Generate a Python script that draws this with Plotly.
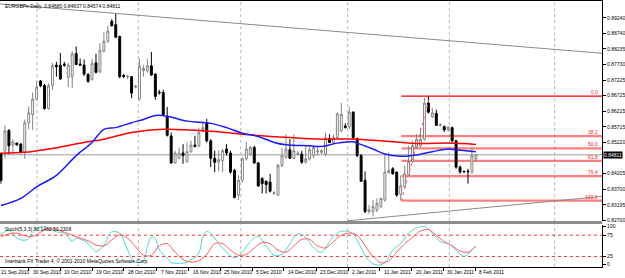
import plotly.graph_objects as go

W, H = 625, 278

# ---------------- data ----------------
header_text = "EURGBPe,Daily  0.84680 0.84837 0.84574 0.84811"
last_price = 0.84811

bars = list(range(1, 122))
opens = [
0.84838, 0.84944, 0.85603, 0.85125, 0.85189, 0.85157, 0.84891, 0.85848, 0.86114, 0.86613,
0.87198, 0.87049, 0.86305, 0.87049, 0.87709, 0.87709, 0.87740, 0.87315, 0.87336, 0.88081,
0.87740, 0.87709, 0.87411, 0.87251, 0.87783, 0.87496, 0.88166, 0.88485, 0.89123, 0.89016,
0.88634, 0.87379, 0.87326, 0.87336, 0.86996, 0.86613, 0.87528, 0.87528, 0.87687, 0.87421,
0.86837, 0.86826, 0.86039, 0.85423, 0.84551, 0.84699, 0.84869, 0.84593, 0.84912, 0.85125,
0.85103, 0.85614, 0.85848, 0.85263, 0.84699, 0.84572, 0.84625, 0.84997, 0.84869, 0.84306,
0.83508, 0.83987, 0.84678, 0.84838, 0.85050, 0.84551, 0.84040, 0.83955, 0.83934, 0.83562,
0.83508, 0.84466, 0.84731, 0.84976, 0.84699, 0.84838, 0.84838, 0.84572, 0.84678, 0.84784,
0.84912, 0.84891, 0.84838, 0.85337, 0.85210, 0.85369, 0.85582, 0.85741, 0.85720, 0.86188,
0.85337, 0.84784, 0.83987, 0.82977, 0.82977, 0.83030, 0.83136, 0.83349, 0.84232, 0.84359,
0.84253, 0.83530, 0.83774, 0.84168, 0.84593, 0.85050, 0.85103, 0.85316, 0.86486, 0.86039,
0.86146, 0.85763, 0.85720, 0.85614, 0.85688, 0.85263, 0.84413, 0.84274, 0.84285, 0.84253,
0.84680]
highs = [
0.84891, 0.85763, 0.85635, 0.85316, 0.85210, 0.85189, 0.85954, 0.86380, 0.86826, 0.87177,
0.87230, 0.87103, 0.87124, 0.87783, 0.87815, 0.88102, 0.87815, 0.87783, 0.88166, 0.88315,
0.87921, 0.87889, 0.87443, 0.87921, 0.88081, 0.88421, 0.88772, 0.88985, 0.89197, 0.89378,
0.88666, 0.87421, 0.87390, 0.87358, 0.87071, 0.87921, 0.87709, 0.87921, 0.88134, 0.87443,
0.86911, 0.86911, 0.86358, 0.85529, 0.84944, 0.85050, 0.85157, 0.85210, 0.85263, 0.85423,
0.85688, 0.85848, 0.85975, 0.85316, 0.84944, 0.84944, 0.84997, 0.85157, 0.84944, 0.84359,
0.84147, 0.84731, 0.85231, 0.85103, 0.85103, 0.84572, 0.84094, 0.83987, 0.84200, 0.83636,
0.84519, 0.85050, 0.85476, 0.85316, 0.85476, 0.84944, 0.84944, 0.85103, 0.85103, 0.85103,
0.85103, 0.84997, 0.85529, 0.85476, 0.85476, 0.86188, 0.86486, 0.85827, 0.86358, 0.86220,
0.85369, 0.84838, 0.84274, 0.83190, 0.83349, 0.83402, 0.83423, 0.84869, 0.84891, 0.84413,
0.84274, 0.84147, 0.84466, 0.85103, 0.85263, 0.85476, 0.85688, 0.86645, 0.86705, 0.86326,
0.86273, 0.85827, 0.85763, 0.85741, 0.85720, 0.85295, 0.84466, 0.84306, 0.84359, 0.85050,
0.84837]
lows = [
0.83881, 0.84699, 0.84838, 0.84891, 0.85103, 0.84859, 0.84678, 0.85635, 0.85614, 0.86592,
0.86996, 0.86273, 0.86273, 0.86911, 0.87336, 0.87230, 0.87655, 0.86996, 0.86964, 0.87709,
0.87687, 0.87358, 0.87145, 0.87209, 0.87443, 0.87443, 0.88102, 0.88421, 0.88953, 0.88591,
0.87283, 0.87283, 0.87251, 0.86645, 0.86964, 0.86571, 0.87336, 0.87464, 0.87358, 0.86592,
0.86752, 0.86061, 0.85401, 0.84519, 0.84519, 0.84678, 0.84519, 0.84551, 0.84869, 0.85050,
0.85050, 0.85529, 0.85210, 0.84413, 0.84253, 0.84274, 0.84253, 0.84784, 0.84200, 0.83402,
0.83349, 0.83913, 0.84625, 0.84784, 0.84519, 0.83774, 0.83562, 0.83562, 0.83593, 0.83508,
0.83477, 0.84413, 0.84678, 0.84678, 0.84678, 0.84784, 0.84519, 0.84519, 0.84625, 0.84699,
0.84784, 0.84838, 0.84784, 0.85189, 0.85157, 0.85316, 0.85550, 0.85656, 0.85635, 0.85316,
0.84731, 0.83934, 0.82924, 0.82892, 0.82818, 0.82956, 0.83083, 0.83296, 0.84200, 0.84168,
0.83455, 0.83328, 0.83742, 0.84147, 0.84551, 0.84997, 0.85050, 0.85263, 0.86146, 0.86007,
0.85741, 0.85720, 0.85550, 0.85550, 0.85210, 0.84359, 0.84200, 0.84232, 0.83881, 0.84200,
0.84574]
closes = [
0.83987, 0.85582, 0.85103, 0.85231, 0.85135, 0.84891, 0.85848, 0.86167, 0.86613, 0.86996,
0.87039, 0.86305, 0.87039, 0.87687, 0.87655, 0.87262, 0.87709, 0.87709, 0.88081, 0.87730,
0.87709, 0.87421, 0.87177, 0.87762, 0.87475, 0.88187, 0.88485, 0.88804, 0.88985, 0.88612,
0.87336, 0.87347, 0.87347, 0.86805, 0.87028, 0.87677, 0.87602, 0.87687, 0.87390, 0.86698,
0.86815, 0.86114, 0.85444, 0.84551, 0.84869, 0.84869, 0.84784, 0.84912, 0.85125, 0.85082,
0.85529, 0.85688, 0.85263, 0.84699, 0.84572, 0.84657, 0.84944, 0.84869, 0.84253, 0.83434,
0.83987, 0.84678, 0.84997, 0.85050, 0.84551, 0.83806, 0.83881, 0.83849, 0.83636, 0.83583,
0.84466, 0.84784, 0.84997, 0.84699, 0.84944, 0.84859, 0.84572, 0.84678, 0.84976, 0.85050,
0.84933, 0.84944, 0.85369, 0.85210, 0.85369, 0.86135, 0.86114, 0.85699, 0.86188, 0.85369,
0.84784, 0.83955, 0.82977, 0.83030, 0.83136, 0.83243, 0.83402, 0.84253, 0.84306, 0.84200,
0.83508, 0.83806, 0.84200, 0.84593, 0.85103, 0.85316, 0.85316, 0.86486, 0.86188, 0.86167,
0.85763, 0.85784, 0.85614, 0.85710, 0.85263, 0.84413, 0.84253, 0.84264, 0.84264, 0.84784,
0.84811]

# moving averages (read at selected bars)
ma_red_bars = [1, 7, 13, 22, 27, 34, 42, 54, 62, 74, 82, 91, 106, 114, 121]
ma_red_vals = [0.84860, 0.84892, 0.84998, 0.85211, 0.85317, 0.85530, 0.85636, 0.85572,
               0.85476, 0.85371, 0.85317, 0.85317, 0.85180, 0.85189, 0.85148]
ma_blue_bars = [1, 6, 10, 15, 20, 24, 27, 30, 34, 37, 40, 43, 48, 54, 58, 62, 66, 70, 73,
                79, 82, 86, 90, 91, 95, 98, 102, 106, 110, 114, 116, 121]
ma_blue_vals = [0.83170, 0.83403, 0.83776, 0.84146, 0.84784, 0.85211, 0.85636, 0.85690,
                0.85849, 0.85955, 0.86082, 0.86060, 0.85900, 0.85827, 0.85690, 0.85508,
                0.85403, 0.85211, 0.85135, 0.85103, 0.85084, 0.85189, 0.85230, 0.85189,
                0.84998, 0.84838, 0.84765, 0.84806, 0.84912, 0.84998, 0.84975, 0.84912]

# trend lines (bar, price) pairs
trend_upper = [(0.75, 0.89687), (152.9, 0.88092)]
trend_lower = [(88.6, 0.82679), (152.9, 0.83467)]

# fibonacci retracement
fib_start_bar, fib_end_bar = 102.2, 109.4
fib_low, fib_high = 0.83328, 0.86705
fib_ratios = [0.0, 0.382, 0.5, 0.618, 0.764, 1.0]
fib_labels = ["0.0", "38.2", "50.0", "61.8", "76.4", "100.0"]

# price axis labels
price_ticks = [0.89240, 0.88740, 0.88235, 0.87730, 0.87225, 0.86725, 0.86215,
               0.85715, 0.85220, 0.84205, 0.83700, 0.83195, 0.82700]

# stochastic (5,3,3)
stoch_label = "Stoch(5,3,3) 50.1462 50.2308"
stoch_k_bars = [1, 3, 4, 5, 7, 8, 9, 10, 12, 13, 14, 15, 17, 18, 19, 20, 21, 23, 24, 25, 27, 28, 29,
                31, 32, 33, 34, 35, 37, 38, 39, 40, 41, 43, 44, 46, 48, 49, 51, 52, 53, 54, 56,
                58, 60, 62, 64, 66, 68, 70, 72, 74, 76, 78, 80, 82, 84, 86, 88, 90, 92, 94, 96,
                98, 100, 102, 104, 106, 108, 110, 112, 114, 116, 118, 120, 121]
stoch_k_vals = [77, 87, 80, 68, 63, 68, 83, 90, 96, 90, 87, 83, 79, 71, 60, 69, 66, 56, 44, 37, 50, 71, 83,
                80, 63, 40, 21, 11, 15, 48, 71, 67, 40, 21, 11, 9, 11, 17, 33, 71, 84, 79, 56,
                35, 22, 35, 60, 72, 50, 28, 30, 55, 78, 70, 45, 35, 60, 80, 85, 78, 45, 15, 5,
                10, 40, 55, 80, 92, 95, 80, 60, 55, 40, 25, 40, 50]
stoch_d_bars = [1, 3, 5, 7, 9, 11, 13, 15, 17, 19, 21, 23, 25, 27, 29, 31, 33, 35, 37, 39, 41, 43, 45,
                47, 49, 51, 53, 55, 57, 59, 61, 63, 65, 67, 69, 71, 73, 75, 77, 79, 81, 83, 85,
                87, 89, 91, 93, 95, 97, 99, 101, 103, 105, 107, 109, 111, 113, 115, 117, 119, 121]
stoch_d_vals = [72, 78, 80, 74, 72, 82, 90, 88, 82, 75, 68, 62, 52, 50, 64, 76, 68, 48, 28, 28, 50, 55, 35,
                18, 12, 15, 30, 55, 55, 40, 28, 30, 45, 58, 55, 40, 35, 50, 65, 65, 50, 45, 60,
                75, 80, 75, 50, 25, 10, 15, 35, 55, 70, 85, 88, 75, 60, 50, 38, 35, 50]

date_labels = ["21 Sep 2010", "30 Sep 2010", "10 Oct 2010", "19 Oct 2010", "28 Oct 2010",
               "7 Nov 2010", "16 Nov 2010", "25 Nov 2010", "5 Dec 2010", "14 Dec 2010",
               "23 Dec 2010", "2 Jan 2011", "11 Jan 2011", "20 Jan 2011", "30 Jan 2011", "8 Feb 2011"]
date_bars = [0, 8, 16, 24, 32, 40.3, 48.4, 56.4, 64.5, 72.5, 80.6, 88.7, 96.7, 104.8, 112.8, 120.9]
month_grid_bars = [10.1, 35.7, 61.6, 88.6, 114.3, 140.9]

# ---------------- layout constants ----------------
XR = [0.749, 152.9]
PR = [0.82669, 0.89766]
XD = 606 / W
MAIN_D = [(H - 222.5) / H, (H - 0.5) / H]
STO_D = [(H - 269) / H, (H - 226) / H]
FONT = "Liberation Sans"
FS = 5

fig = go.Figure()

fig.add_trace(go.Candlestick(
    x=bars, open=opens, high=highs, low=lows, close=closes,
    increasing=dict(line=dict(color="#858585", width=1), fillcolor="#ffffff"),
    decreasing=dict(line=dict(color="#000000", width=1), fillcolor="#000000"),
    whiskerwidth=0, showlegend=False, hoverinfo="skip", xaxis="x", yaxis="y"))

fig.add_trace(go.Scatter(x=ma_red_bars, y=ma_red_vals, mode="lines",
                         line=dict(color="#ff0000", width=1.5, shape="spline"),
                         showlegend=False, hoverinfo="skip", xaxis="x", yaxis="y"))
fig.add_trace(go.Scatter(x=ma_blue_bars, y=ma_blue_vals, mode="lines",
                         line=dict(color="#1a1aff", width=1.5, shape="spline"),
                         showlegend=False, hoverinfo="skip", xaxis="x", yaxis="y"))

# stochastic
fig.add_trace(go.Scatter(x=stoch_k_bars, y=stoch_k_vals, mode="lines",
                         line=dict(color="#4fd6cf", width=1, shape="spline"),
                         showlegend=False, hoverinfo="skip", xaxis="x2", yaxis="y2"))
fig.add_trace(go.Scatter(x=stoch_d_bars, y=stoch_d_vals, mode="lines",
                         line=dict(color="#ff5a5a", width=1, shape="spline"),
                         showlegend=False, hoverinfo="skip", xaxis="x2", yaxis="y2"))

shapes = []
# grid
for gb in month_grid_bars:
    for dom in (MAIN_D, [STO_D[0], STO_D[1]]):
        shapes.append(dict(type="line", xref="x", yref="paper", x0=gb, x1=gb, y0=dom[0], y1=dom[1],
                           line=dict(color="#b4b4b4", width=1, dash="dot"), layer="below"))
# bid line
shapes.append(dict(type="line", xref="paper", yref="y", x0=0, x1=XD, y0=last_price, y1=last_price,
                   line=dict(color="#9a9a9a", width=1), layer="below"))
# trend lines
for (a, b) in (trend_upper, trend_lower):
    shapes.append(dict(type="line", xref="x", yref="y", x0=a[0], y0=a[1], x1=b[0], y1=b[1],
                       line=dict(color="#8a8a8a", width=1)))
# fibonacci
span = fib_high - fib_low
for r in fib_ratios:
    lvl = fib_high - r * span
    if r == 0.0:
        ln = dict(color="#ff0000", width=1.2)
    else:
        ln = dict(color="rgba(255,40,40,0.6)", width=2.2)
    shapes.append(dict(type="line", xref="x", yref="y", x0=fib_start_bar, x1=XR[1], y0=lvl, y1=lvl,
                       line=ln, layer="below"))
shapes.append(dict(type="line", xref="x", yref="y", x0=fib_start_bar, y0=fib_low, x1=fib_end_bar, y1=fib_high,
                   line=dict(color="#ff6060", width=1, dash="dot")))
# stochastic levels
for lv in (75, 25):
    shapes.append(dict(type="line", xref="paper", yref="y2", x0=0, x1=XD, y0=lv, y1=lv,
                       line=dict(color="#ff3030", width=1, dash="dot"), layer="below"))
# separator
shapes.append(dict(type="rect", xref="paper", yref="paper", x0=0, x1=XD,
                   y0=(H - 225.5) / H, y1=(H - 222.5) / H, fillcolor="#8c8c8c", line=dict(width=0)))

annotations = []
annotations.append(dict(xref="paper", yref="paper", x=3 / W, y=(H - 5) / H, text=header_text,
                        showarrow=False, xanchor="left", yanchor="middle",
                        font=dict(family=FONT, size=FS, color="black")))
annotations.append(dict(xref="paper", yref="paper", x=3 / W, y=(H - 230) / H, text=stoch_label,
                        showarrow=False, xanchor="left", yanchor="middle",
                        font=dict(family=FONT, size=FS, color="black")))
annotations.append(dict(xref="paper", yref="paper", x=3 / W, y=(H - 263) / H,
                        text="Interbank FX Trader 4, © 2001-2010 MetaQuotes Software Corp.",
                        showarrow=False, xanchor="left", yanchor="middle",
                        font=dict(family=FONT, size=FS, color="black")))
for r, lab in zip(fib_ratios, fib_labels):
    lvl = fib_high - r * span
    annotations.append(dict(xref="paper", yref="y", x=604 / W, y=lvl, text=lab, showarrow=False,
                            xanchor="right", yanchor="bottom", yshift=-1,
                            font=dict(family=FONT, size=FS, color="#ff2020")))
annotations.append(dict(xref="paper", yref="y", x=XD + 1 / W, y=last_price, text="%.5f" % last_price,
                        showarrow=False, xanchor="left", yanchor="middle", bgcolor="black",
                        borderpad=0, font=dict(family=FONT, size=FS, color="white")))
for db, dl in zip(date_bars, date_labels):
    xpos = max(db, XR[0] + 0.01)
    shift = 2 + (db - xpos) * 3.983
    annotations.append(dict(xref="x2", yref="paper", x=xpos, y=(H - 273.5) / H, text=dl, showarrow=False,
                            xanchor="left", yanchor="middle", xshift=shift,
                            font=dict(family=FONT, size=FS, color="black")))

fig.update_layout(
    width=W, height=H, margin=dict(l=0, r=0, t=0, b=0),
    paper_bgcolor="white", plot_bgcolor="white", showlegend=False,
    shapes=shapes, annotations=annotations,
    xaxis=dict(domain=[0, XD], range=XR, anchor="y", side="top", showline=True, linecolor="black",
               linewidth=1, showticklabels=False, ticks="", showgrid=False, zeroline=False,
               rangeslider=dict(visible=False)),
    yaxis=dict(domain=MAIN_D, range=PR, side="right", anchor="x", showline=True, linecolor="black",
               linewidth=1, tickvals=price_ticks, ticktext=["%.5f" % v for v in price_ticks],
               ticks="outside", ticklen=3, tickcolor="black", showgrid=False, zeroline=False,
               tickfont=dict(family=FONT, size=FS, color="black")),
    xaxis2=dict(domain=[0, XD], range=XR, anchor="y2", showline=True, linecolor="black", linewidth=1,
                tickvals=date_bars, showticklabels=False, ticks="outside", ticklen=3, tickcolor="black",
                showgrid=False, zeroline=False),
    yaxis2=dict(domain=STO_D, range=[0, 100], side="right", anchor="x2", showline=True, linecolor="black",
                linewidth=1, tickvals=[95, 75, 25, 6], ticktext=["100", "75", "25", "0"],
                ticks="outside", ticklen=3, tickcolor="black", showgrid=False, zeroline=False,
                tickfont=dict(family=FONT, size=FS, color="black")),
)

fig.write_html("out.html")
